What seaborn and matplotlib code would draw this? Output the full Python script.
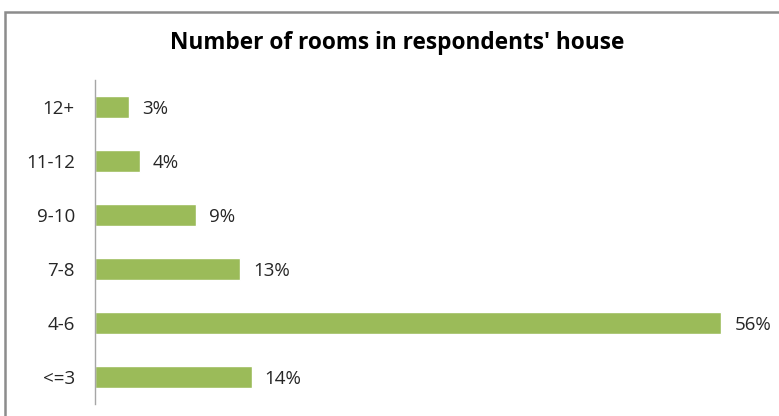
import matplotlib
matplotlib.use("Agg")
import matplotlib.pyplot as plt
import matplotlib.patches as mpatches
import seaborn as sns
import pandas as pd

categories = ["12+", "11-12", "9-10", "7-8", "4-6", "<=3"]
shares = [3, 4, 9, 13, 56, 14]
value_labels = ["3%", "4%", "9%", "13%", "56%", "14%"]
title = "Number of rooms in respondents' house"

sns.set_theme(style="white")
plt.rcParams["font.family"] = ["Open Sans", "DejaVu Sans"]

df = pd.DataFrame({"rooms": categories, "share": shares})

W, H = 779, 416
fig = plt.figure(figsize=(W / 100, H / 100), dpi=100)
fig.patch.set_facecolor("white")

ax = fig.add_axes([95 / W, (H - 404) / H, 671 / W, 324 / H])
sns.barplot(data=df, x="share", y="rooms", order=categories, color="#9BBB59",
            saturation=1, width=0.4, ax=ax)

ax.set_xlim(0, 60)
ax.set_ylim(5.5, -0.5)
ax.set_xlabel("")
ax.set_ylabel("")
ax.set_xticks([])
for side in ("top", "right", "bottom"):
    ax.spines[side].set_visible(False)
ax.spines["left"].set_color("#A6A6A6")
ax.spines["left"].set_linewidth(1.0)
ax.tick_params(axis="y", length=0, pad=14.5, labelsize=13.5, labelcolor="#262626")

for i, (v, lab) in enumerate(zip(shares, value_labels)):
    ax.annotate(lab, xy=(v, i), xytext=(9.5, 0), textcoords="offset points",
                ha="left", va="center_baseline", fontsize=13.5, color="#262626",
                annotation_clip=False)

fig.text(397 / W, 1 - 43 / H, title, ha="center", va="center",
         fontsize=16.3, fontweight="bold", color="#000000")

# outer chart frame
frame = mpatches.Rectangle((5 / W, -0.1), 1.2, 1 - 12 / H + 0.1,
                           transform=fig.transFigure, fill=False,
                           edgecolor="#8C8C8C", linewidth=1.8, clip_on=False)
fig.patches.append(frame)

fig.savefig("out.png", dpi=100)
